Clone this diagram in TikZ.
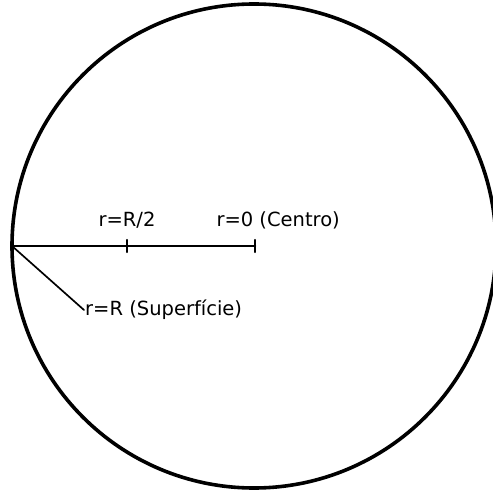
\documentclass[tikz,border=0pt]{standalone}
\usepackage{fontspec}
\setmainfont{DejaVu Sans}
\begin{document}
\begin{tikzpicture}[x=1pt, y=-1pt, font=\fontsize{19.5}{22}\selectfont, line join=round, line cap=round,
	raio/.style={line width=2.6pt}, marca/.style={line width=2.4pt}]
	\useasboundingbox (0,0) rectangle (493,492);
	\clip (0,0) rectangle (493,492);
	\draw[line width=3.6pt] (254,246) circle[radius=242];
	\coordinate (S) at (12,246);
	\coordinate (M) at (127,246);
	\coordinate (C) at (255,246);
	\draw[raio] (S)--(C);
	\foreach \p in {M,C} \draw[marca] (\p)++(0,-6)--++(0,12);
	\path (M)++(0,-20) node[anchor=base] (lblM) {r=R/2};
	\path (213,226) node[anchor=base west] (lblC) {r=0 (Centro)};
	\path (84,310) node[anchor=west, inner sep=1pt] (lblS) {r=R (Superfície)};
	\draw[line width=1.7pt] (S)--(lblS.west);
\end{tikzpicture}
\end{document}
